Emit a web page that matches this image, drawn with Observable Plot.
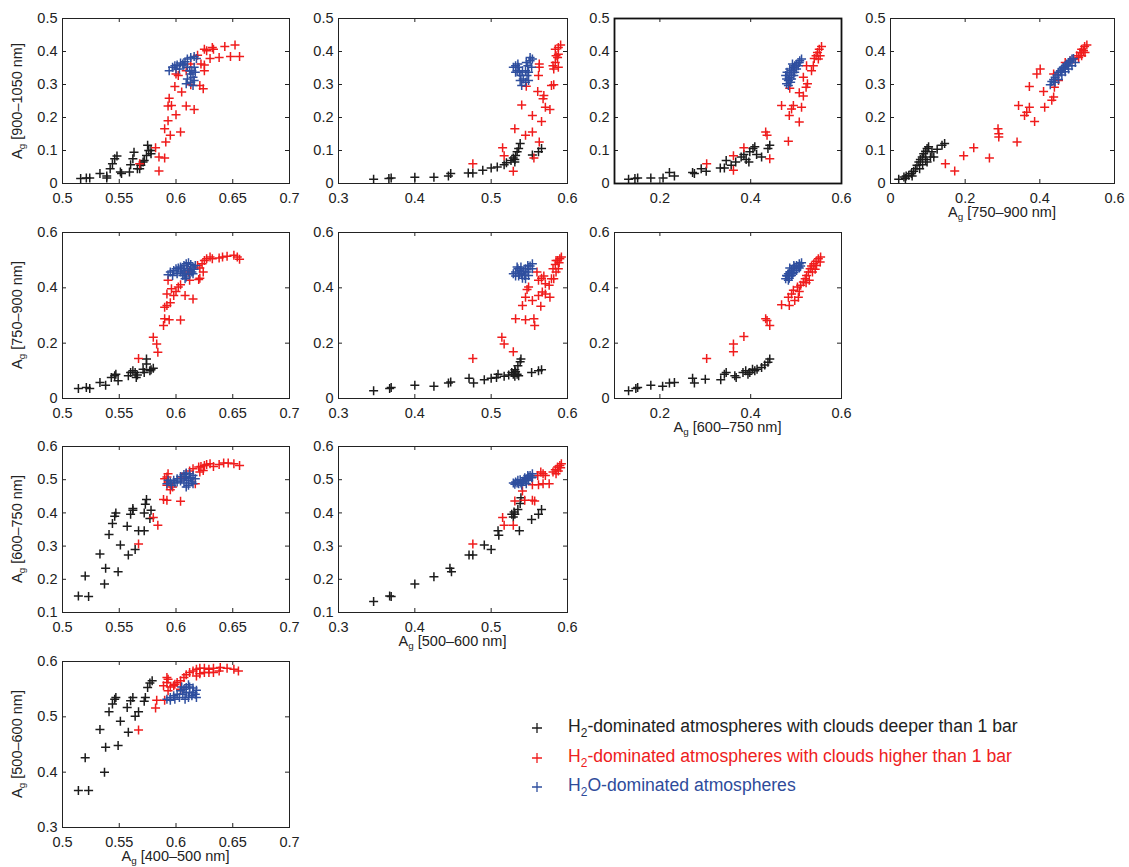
<!DOCTYPE html>
<html><head><meta charset="utf-8">
<script src="https://cdn.jsdelivr.net/npm/d3@7"></script>
<script src="https://cdn.jsdelivr.net/npm/@observablehq/plot@0.6"></script>
<style>
body{margin:0;background:#fff;}
#root{position:relative;width:1129px;height:867px;overflow:hidden;font-family:"Liberation Sans",Arial,Helvetica,sans-serif;color:#222;}
.panel{position:absolute;}
.panel svg{overflow:visible;}
.lab{position:absolute;font-size:14.5px;white-space:nowrap;color:#222;line-height:1;}
.lab sub,.leg sub{font-size:0.68em;vertical-align:-0.35em;line-height:0;}
.leg{position:absolute;font-size:17.6px;white-space:nowrap;line-height:1;}
.legmark{position:absolute;}
</style></head>
<body><div id="root"></div>
<script>
// ---- labels / axes ----
const bands = ["400–500 nm","500–600 nm","600–750 nm","750–900 nm","900–1050 nm"];
const bandDomain = [[0.5,0.7],[0.3,0.6],[0.1,0.6],[0,0.6],[0,0.5]];
const xTicks = [[0.5,0.55,0.6,0.65,0.7],[0.3,0.4,0.5,0.6],[0.2,0.4,0.6],[0,0.2,0.4,0.6]];
const yTicks = [null,[0.3,0.4,0.5,0.6],[0.1,0.2,0.3,0.4,0.5,0.6],[0,0.2,0.4,0.6],[0,0.1,0.2,0.3,0.4,0.5]];
const classNames = ["H<sub>2</sub>-dominated atmospheres with clouds deeper than 1 bar","H<sub>2</sub>-dominated atmospheres with clouds higher than 1 bar","H<sub>2</sub>O-dominated atmospheres"];
const classColors = ["#1c1c1c","#f01c1c","#2f4f9f"];
const legendColors = ["#222222","#ee2020","#2e4b9b"];

// ---- data: [x, y] pairs per panel (x band, y band) ----
// x = 400–500, y = 900–1050
const black15 = [[0.516,0.015],[0.521,0.017],[0.524,0.017],[0.533,0.03],[0.539,0.023],[0.539,0.017],[0.542,0.045],[0.544,0.06],[0.546,0.075],[0.548,0.083],[0.551,0.035],[0.552,0.03],[0.559,0.035],[0.560,0.057],[0.562,0.075],[0.563,0.095],[0.566,0.045],[0.568,0.045],[0.569,0.055],[0.571,0.065],[0.572,0.07],[0.574,0.085],[0.575,0.116],[0.576,0.10],[0.578,0.09],[0.578,0.10]];
const red15 = [[0.568,0.06],[0.582,0.108],[0.585,0.08],[0.585,0.038],[0.590,0.077],[0.591,0.126],[0.590,0.166],[0.593,0.19],[0.595,0.146],[0.593,0.235],[0.594,0.258],[0.596,0.236],[0.600,0.208],[0.604,0.156],[0.599,0.294],[0.605,0.277],[0.609,0.235],[0.616,0.224],[0.613,0.299],[0.621,0.297],[0.624,0.287],[0.600,0.332],[0.602,0.327],[0.609,0.342],[0.613,0.362],[0.619,0.389],[0.625,0.407],[0.627,0.402],[0.625,0.359],[0.625,0.342],[0.630,0.379],[0.632,0.412],[0.633,0.407],[0.638,0.382],[0.643,0.415],[0.652,0.42],[0.648,0.385],[0.656,0.385],[0.622,0.362]];
const blue15 = [[0.594,0.342],[0.597,0.352],[0.599,0.357],[0.601,0.359],[0.604,0.365],[0.606,0.362],[0.608,0.369],[0.610,0.377],[0.613,0.382],[0.616,0.385],[0.618,0.379],[0.610,0.352],[0.612,0.342],[0.613,0.332],[0.615,0.322],[0.610,0.317],[0.613,0.307],[0.616,0.312],[0.609,0.302],[0.614,0.342],[0.616,0.352],[0.607,0.359],[0.603,0.347],[0.600,0.347],[0.615,0.297],[0.617,0.337]];
// x = 500–600, y = 900–1050
const black25 = [[0.346,0.013],[0.366,0.015],[0.369,0.017],[0.40,0.019],[0.425,0.019],[0.444,0.023],[0.447,0.03],[0.470,0.032],[0.476,0.032],[0.489,0.04],[0.50,0.047],[0.508,0.05],[0.517,0.057],[0.520,0.063],[0.526,0.07],[0.529,0.077],[0.532,0.085],[0.534,0.096],[0.536,0.106],[0.538,0.121],[0.531,0.073],[0.531,0.065],[0.554,0.086],[0.562,0.096],[0.566,0.106]];
const red25 = [[0.476,0.06],[0.515,0.108],[0.517,0.084],[0.529,0.037],[0.531,0.166],[0.540,0.238],[0.545,0.146],[0.554,0.206],[0.554,0.156],[0.556,0.077],[0.563,0.126],[0.566,0.188],[0.561,0.279],[0.568,0.257],[0.569,0.267],[0.571,0.231],[0.577,0.224],[0.546,0.295],[0.562,0.327],[0.563,0.362],[0.563,0.352],[0.579,0.297],[0.582,0.299],[0.582,0.347],[0.584,0.367],[0.585,0.387],[0.588,0.392],[0.584,0.407],[0.588,0.412],[0.591,0.42],[0.588,0.352],[0.587,0.382],[0.581,0.357]];
const blue25 = [[0.529,0.352],[0.532,0.357],[0.535,0.362],[0.534,0.342],[0.537,0.337],[0.539,0.327],[0.542,0.317],[0.545,0.307],[0.540,0.297],[0.538,0.312],[0.547,0.327],[0.549,0.337],[0.548,0.357],[0.551,0.372],[0.551,0.382],[0.554,0.377],[0.545,0.342],[0.541,0.342],[0.536,0.352],[0.532,0.337],[0.549,0.312],[0.553,0.352],[0.546,0.367]];
// x = 600–750, y = 900–1050
const black35 = [[0.131,0.013],[0.145,0.015],[0.151,0.017],[0.180,0.017],[0.207,0.017],[0.221,0.033],[0.232,0.023],[0.272,0.033],[0.276,0.03],[0.291,0.045],[0.302,0.037],[0.333,0.047],[0.342,0.047],[0.346,0.07],[0.357,0.055],[0.367,0.065],[0.379,0.08],[0.385,0.088],[0.390,0.073],[0.396,0.065],[0.398,0.096],[0.405,0.106],[0.409,0.111],[0.413,0.088],[0.424,0.08],[0.438,0.106],[0.442,0.116]];
const red35 = [[0.303,0.06],[0.362,0.084],[0.362,0.04],[0.385,0.108],[0.433,0.156],[0.436,0.146],[0.442,0.075],[0.468,0.236],[0.485,0.206],[0.483,0.128],[0.486,0.289],[0.490,0.226],[0.494,0.236],[0.507,0.186],[0.512,0.231],[0.507,0.275],[0.516,0.265],[0.522,0.292],[0.525,0.302],[0.516,0.322],[0.523,0.357],[0.534,0.342],[0.538,0.357],[0.540,0.379],[0.544,0.387],[0.547,0.397],[0.551,0.407],[0.556,0.415],[0.549,0.377],[0.553,0.387]];
const blue35 = [[0.479,0.302],[0.483,0.312],[0.485,0.322],[0.486,0.332],[0.490,0.342],[0.494,0.352],[0.497,0.357],[0.501,0.362],[0.507,0.367],[0.512,0.377],[0.477,0.327],[0.480,0.337],[0.486,0.347],[0.492,0.362],[0.495,0.327],[0.490,0.317],[0.497,0.337],[0.501,0.347],[0.505,0.357],[0.483,0.297],[0.508,0.372],[0.479,0.317],[0.488,0.307]];
// x = 750–900, y = 900–1050
const black45 = [[0.022,0.013],[0.036,0.02],[0.042,0.023],[0.049,0.025],[0.056,0.03],[0.062,0.037],[0.067,0.045],[0.071,0.055],[0.076,0.065],[0.080,0.073],[0.085,0.08],[0.089,0.09],[0.094,0.098],[0.098,0.106],[0.102,0.111],[0.111,0.096],[0.116,0.08],[0.125,0.104],[0.138,0.116],[0.145,0.121],[0.078,0.045],[0.086,0.057],[0.098,0.065],[0.107,0.08],[0.040,0.015],[0.058,0.023],[0.094,0.073]];
const red45 = [[0.147,0.06],[0.172,0.038],[0.196,0.084],[0.223,0.108],[0.265,0.077],[0.288,0.166],[0.290,0.151],[0.290,0.141],[0.339,0.126],[0.343,0.236],[0.359,0.206],[0.365,0.216],[0.372,0.231],[0.372,0.294],[0.386,0.188],[0.392,0.332],[0.401,0.347],[0.410,0.279],[0.413,0.231],[0.432,0.252],[0.437,0.262],[0.439,0.292],[0.437,0.332],[0.450,0.312],[0.468,0.367],[0.481,0.372],[0.490,0.377],[0.499,0.387],[0.508,0.397],[0.512,0.407],[0.520,0.415],[0.526,0.42],[0.504,0.382],[0.521,0.397],[0.512,0.387],[0.517,0.402]];
const blue45 = [[0.428,0.299],[0.432,0.309],[0.437,0.315],[0.441,0.322],[0.446,0.329],[0.450,0.337],[0.455,0.342],[0.459,0.347],[0.463,0.352],[0.468,0.357],[0.472,0.362],[0.477,0.367],[0.481,0.372],[0.486,0.377],[0.490,0.379],[0.441,0.307],[0.450,0.315],[0.459,0.329],[0.468,0.339],[0.477,0.347],[0.486,0.357],[0.495,0.367],[0.457,0.337],[0.466,0.347],[0.475,0.357]];
// x = 400–500, y = 750–900
const black14 = [[0.514,0.036],[0.521,0.04],[0.524,0.036],[0.533,0.058],[0.538,0.048],[0.543,0.076],[0.546,0.082],[0.547,0.088],[0.549,0.064],[0.558,0.082],[0.560,0.094],[0.562,0.10],[0.564,0.094],[0.565,0.076],[0.571,0.106],[0.572,0.094],[0.574,0.143],[0.574,0.125],[0.577,0.10],[0.578,0.104],[0.580,0.109],[0.566,0.085]];
const red14 = [[0.567,0.145],[0.580,0.221],[0.583,0.197],[0.584,0.167],[0.589,0.264],[0.590,0.288],[0.594,0.285],[0.604,0.284],[0.590,0.33],[0.592,0.336],[0.595,0.346],[0.592,0.378],[0.593,0.427],[0.598,0.372],[0.600,0.387],[0.602,0.403],[0.604,0.411],[0.596,0.397],[0.608,0.372],[0.615,0.36],[0.612,0.427],[0.620,0.43],[0.621,0.435],[0.619,0.481],[0.621,0.472],[0.623,0.487],[0.625,0.499],[0.627,0.505],[0.630,0.511],[0.632,0.505],[0.624,0.457],[0.638,0.508],[0.641,0.511],[0.645,0.514],[0.651,0.518],[0.654,0.511],[0.656,0.503],[0.611,0.457]];
const blue14 = [[0.593,0.447],[0.595,0.457],[0.598,0.463],[0.600,0.469],[0.602,0.472],[0.604,0.475],[0.607,0.481],[0.609,0.487],[0.611,0.491],[0.613,0.484],[0.615,0.475],[0.616,0.467],[0.614,0.457],[0.612,0.447],[0.609,0.439],[0.608,0.433],[0.606,0.445],[0.604,0.457],[0.601,0.451],[0.597,0.445],[0.607,0.463],[0.610,0.469],[0.612,0.463],[0.615,0.451],[0.608,0.451],[0.605,0.469],[0.617,0.481]];
// x = 500–600, y = 750–900
const black24 = [[0.346,0.028],[0.367,0.036],[0.369,0.04],[0.40,0.048],[0.425,0.044],[0.444,0.056],[0.447,0.06],[0.471,0.073],[0.477,0.056],[0.491,0.068],[0.50,0.073],[0.507,0.076],[0.509,0.088],[0.517,0.08],[0.523,0.085],[0.527,0.094],[0.531,0.104],[0.532,0.097],[0.534,0.088],[0.536,0.082],[0.535,0.118],[0.538,0.133],[0.539,0.143],[0.531,0.08],[0.529,0.088],[0.553,0.094],[0.562,0.10],[0.566,0.104]];
const red24 = [[0.476,0.145],[0.514,0.221],[0.517,0.197],[0.529,0.169],[0.532,0.288],[0.545,0.285],[0.541,0.336],[0.545,0.366],[0.547,0.394],[0.549,0.403],[0.554,0.354],[0.556,0.288],[0.557,0.264],[0.565,0.333],[0.562,0.372],[0.567,0.385],[0.562,0.427],[0.566,0.435],[0.569,0.443],[0.560,0.457],[0.571,0.415],[0.576,0.409],[0.571,0.378],[0.577,0.366],[0.579,0.433],[0.582,0.433],[0.581,0.469],[0.584,0.484],[0.587,0.499],[0.590,0.505],[0.592,0.511],[0.588,0.469],[0.585,0.457],[0.589,0.491],[0.585,0.499]];
const blue24 = [[0.529,0.451],[0.532,0.457],[0.535,0.469],[0.538,0.463],[0.540,0.451],[0.544,0.445],[0.545,0.433],[0.541,0.435],[0.536,0.443],[0.547,0.457],[0.549,0.469],[0.551,0.479],[0.554,0.487],[0.548,0.481],[0.545,0.469],[0.539,0.475],[0.534,0.475],[0.542,0.459],[0.532,0.443],[0.554,0.469],[0.549,0.445],[0.537,0.451]];
// x = 600–750, y = 750–900
const black34 = [[0.131,0.028],[0.147,0.036],[0.151,0.04],[0.180,0.048],[0.206,0.044],[0.221,0.056],[0.232,0.058],[0.272,0.073],[0.276,0.056],[0.30,0.07],[0.334,0.068],[0.342,0.088],[0.346,0.094],[0.365,0.082],[0.368,0.076],[0.383,0.094],[0.389,0.1],[0.394,0.088],[0.398,0.094],[0.404,0.106],[0.409,0.1],[0.414,0.106],[0.424,0.112],[0.431,0.121],[0.438,0.131],[0.442,0.143]];
const red34 = [[0.303,0.145],[0.362,0.197],[0.362,0.169],[0.385,0.224],[0.433,0.288],[0.436,0.282],[0.442,0.264],[0.468,0.339],[0.485,0.336],[0.483,0.366],[0.490,0.378],[0.494,0.391],[0.503,0.403],[0.507,0.387],[0.510,0.409],[0.516,0.421],[0.520,0.433],[0.523,0.445],[0.527,0.457],[0.531,0.469],[0.534,0.479],[0.539,0.487],[0.544,0.496],[0.549,0.505],[0.554,0.511],[0.497,0.354],[0.505,0.366],[0.522,0.418],[0.529,0.427],[0.536,0.457],[0.542,0.467],[0.553,0.493],[0.545,0.481]];
const blue34 = [[0.477,0.433],[0.480,0.443],[0.483,0.451],[0.486,0.457],[0.490,0.463],[0.494,0.469],[0.497,0.475],[0.501,0.481],[0.507,0.487],[0.512,0.491],[0.479,0.445],[0.485,0.435],[0.490,0.445],[0.495,0.455],[0.501,0.463],[0.507,0.472],[0.510,0.479],[0.486,0.472],[0.495,0.481],[0.483,0.427],[0.505,0.475],[0.492,0.451]];
// x = 400–500, y = 600–750
const black13 = [[0.514,0.15],[0.523,0.148],[0.520,0.21],[0.533,0.276],[0.537,0.186],[0.538,0.233],[0.541,0.335],[0.544,0.368],[0.546,0.39],[0.547,0.40],[0.549,0.223],[0.551,0.303],[0.557,0.36],[0.558,0.273],[0.560,0.396],[0.562,0.413],[0.564,0.29],[0.567,0.346],[0.572,0.346],[0.572,0.40],[0.573,0.426],[0.574,0.44],[0.577,0.383],[0.578,0.408],[0.562,0.408]];
const red13 = [[0.567,0.306],[0.580,0.386],[0.584,0.363],[0.589,0.44],[0.592,0.438],[0.593,0.518],[0.592,0.508],[0.592,0.483],[0.595,0.47],[0.597,0.478],[0.604,0.435],[0.617,0.488],[0.612,0.526],[0.615,0.533],[0.620,0.538],[0.622,0.54],[0.625,0.543],[0.627,0.546],[0.630,0.548],[0.621,0.523],[0.624,0.528],[0.638,0.546],[0.642,0.55],[0.646,0.55],[0.651,0.548],[0.656,0.543],[0.590,0.503],[0.593,0.493],[0.605,0.508],[0.609,0.518],[0.633,0.54]];
const blue13 = [[0.592,0.488],[0.595,0.493],[0.598,0.498],[0.601,0.503],[0.604,0.51],[0.607,0.516],[0.609,0.52],[0.612,0.518],[0.615,0.513],[0.617,0.503],[0.614,0.493],[0.611,0.483],[0.609,0.478],[0.607,0.49],[0.604,0.496],[0.599,0.49],[0.596,0.483],[0.593,0.498],[0.609,0.503],[0.613,0.506],[0.605,0.503],[0.601,0.493],[0.611,0.498],[0.615,0.488],[0.608,0.51]];
// x = 500–600, y = 600–750
const black23 = [[0.346,0.133],[0.367,0.15],[0.369,0.148],[0.40,0.186],[0.425,0.208],[0.446,0.233],[0.448,0.223],[0.471,0.273],[0.476,0.273],[0.491,0.303],[0.50,0.29],[0.509,0.346],[0.510,0.333],[0.527,0.396],[0.529,0.388],[0.531,0.396],[0.535,0.41],[0.538,0.428],[0.539,0.446],[0.537,0.346],[0.553,0.38],[0.562,0.396],[0.566,0.41],[0.530,0.403]];
const red23 = [[0.476,0.306],[0.515,0.386],[0.517,0.363],[0.529,0.363],[0.531,0.436],[0.544,0.438],[0.554,0.438],[0.557,0.436],[0.541,0.466],[0.554,0.485],[0.562,0.485],[0.565,0.523],[0.568,0.518],[0.571,0.513],[0.576,0.488],[0.561,0.513],[0.581,0.523],[0.584,0.53],[0.587,0.538],[0.590,0.543],[0.592,0.548],[0.588,0.526],[0.585,0.518],[0.591,0.536],[0.568,0.488]];
const blue23 = [[0.529,0.49],[0.532,0.493],[0.536,0.488],[0.539,0.49],[0.542,0.496],[0.545,0.498],[0.547,0.503],[0.549,0.508],[0.551,0.513],[0.554,0.518],[0.554,0.508],[0.549,0.498],[0.546,0.488],[0.540,0.483],[0.535,0.498],[0.538,0.5],[0.544,0.506],[0.548,0.513],[0.531,0.486],[0.541,0.493],[0.553,0.506],[0.534,0.49]];
// x = 400–500, y = 500–600
const black12 = [[0.514,0.367],[0.523,0.367],[0.520,0.426],[0.533,0.477],[0.537,0.40],[0.538,0.445],[0.541,0.509],[0.544,0.523],[0.546,0.532],[0.547,0.535],[0.549,0.448],[0.551,0.492],[0.557,0.517],[0.558,0.472],[0.560,0.529],[0.562,0.535],[0.564,0.501],[0.567,0.509],[0.572,0.528],[0.573,0.535],[0.575,0.553],[0.577,0.561],[0.579,0.565]];
const red12 = [[0.567,0.476],[0.582,0.516],[0.583,0.53],[0.589,0.556],[0.592,0.571],[0.593,0.568],[0.592,0.562],[0.595,0.554],[0.598,0.556],[0.599,0.559],[0.601,0.562],[0.604,0.565],[0.607,0.571],[0.609,0.576],[0.612,0.58],[0.615,0.583],[0.618,0.586],[0.621,0.588],[0.625,0.588],[0.629,0.586],[0.633,0.588],[0.639,0.589],[0.645,0.588],[0.651,0.586],[0.655,0.583],[0.618,0.574],[0.621,0.578],[0.593,0.547],[0.604,0.55],[0.590,0.53],[0.629,0.58],[0.625,0.58],[0.633,0.58],[0.638,0.583]];
const blue12 = [[0.592,0.532],[0.595,0.535],[0.598,0.538],[0.601,0.541],[0.604,0.547],[0.607,0.55],[0.609,0.553],[0.612,0.554],[0.615,0.552],[0.618,0.548],[0.617,0.541],[0.614,0.538],[0.611,0.535],[0.608,0.532],[0.606,0.541],[0.603,0.535],[0.599,0.532],[0.595,0.53],[0.612,0.544],[0.609,0.544],[0.615,0.544],[0.618,0.535],[0.605,0.554],[0.611,0.558]];

// ---- layout of the panel grid (row 0 = top) ----
const colLeft = [62, 338, 614, 890];
const colWidth = [227, 229, 227, 224];
const rowTop = [18, 232, 446, 661];
const rowHeight = [165, 166, 166, 166];

const panels = [
  {row:0,col:0,xb:0,yb:4,sets:[black15,red15,blue15]},
  {row:0,col:1,xb:1,yb:4,sets:[black25,red25,blue25]},
  {row:0,col:2,xb:2,yb:4,sets:[black35,red35,blue35],bold:true},
  {row:0,col:3,xb:3,yb:4,sets:[black45,red45,blue45]},
  {row:1,col:0,xb:0,yb:3,sets:[black14,red14,blue14]},
  {row:1,col:1,xb:1,yb:3,sets:[black24,red24,blue24]},
  {row:1,col:2,xb:2,yb:3,sets:[black34,red34,blue34]},
  {row:2,col:0,xb:0,yb:2,sets:[black13,red13,blue13]},
  {row:2,col:1,xb:1,yb:2,sets:[black23,red23,blue23]},
  {row:3,col:0,xb:0,yb:1,sets:[black12,red12,blue12]}
];

const plusSymbol = {draw(ctx, size){ const r = Math.sqrt(size/Math.PI); ctx.moveTo(-r,0); ctx.lineTo(r,0); ctx.moveTo(0,-r); ctx.lineTo(0,r); }};
const fmt = d => String(d);
const root = document.getElementById("root");
const mL = 44, mR = 14, mT = 10, mB = 28;
const ink = "#222";

for (const p of panels) {
  const W = colWidth[p.col], H = rowHeight[p.row];
  const xt = xTicks[p.xb], yt = yTicks[p.yb];
  const marks = [
    Plot.tickX(xt, {x: d => d, insetTop: H - 4, stroke: ink}),
    Plot.tickX(xt, {x: d => d, insetBottom: H - 4, stroke: ink}),
    Plot.tickY(yt, {y: d => d, insetRight: W - 4, stroke: ink}),
    Plot.tickY(yt, {y: d => d, insetLeft: W - 4, stroke: ink}),
    Plot.axisX({ticks: xt, tickSize: 0, tickPadding: 9, tickFormat: fmt, label: null, fill: ink, fontSize: 14.5}),
    Plot.axisY({ticks: yt, tickSize: 0, tickPadding: 5, tickFormat: fmt, label: null, fill: ink, fontSize: 14.5})
  ];
  p.sets.forEach((set, i) => {
    marks.push(Plot.dot(set, {x: d => d[0], y: d => d[1], symbol: plusSymbol, r: 4.5, stroke: classColors[i], strokeWidth: 1.5, fill: "none"}));
  });
  marks.push(Plot.frame({stroke: p.bold ? "#111" : ink, strokeWidth: p.bold ? 1.8 : 1}));
  const chart = Plot.plot({
    width: W + mL + mR, height: H + mT + mB,
    marginLeft: mL, marginRight: mR, marginTop: mT, marginBottom: mB,
    x: {domain: bandDomain[p.xb]},
    y: {domain: bandDomain[p.yb]},
    style: {fontFamily: '"Liberation Sans", Arial, sans-serif', fontSize: "14.5px", color: ink, background: "transparent", overflow: "visible"},
    marks
  });
  const div = document.createElement("div");
  div.className = "panel";
  div.style.left = (colLeft[p.col] - mL) + "px";
  div.style.top = (rowTop[p.row] - mT) + "px";
  div.appendChild(chart);
  root.appendChild(div);
}

// y-axis labels (left column) and x-axis labels (bottom of each column)
for (let r = 0; r < 4; r++) {
  const d = document.createElement("div");
  d.className = "lab";
  d.innerHTML = "A<sub>g</sub> [" + bands[4 - r] + "]";
  d.style.left = "17px";
  d.style.top = (rowTop[r] + rowHeight[r] / 2) + "px";
  d.style.transform = "translate(-50%,-50%) rotate(-90deg)";
  root.appendChild(d);
}
for (let c = 0; c < 4; c++) {
  const r = 3 - c;
  const d = document.createElement("div");
  d.className = "lab";
  d.innerHTML = "A<sub>g</sub> [" + bands[c] + "]";
  d.style.left = (colLeft[c] + colWidth[c] / 2) + "px";
  d.style.top = (rowTop[r] + rowHeight[r] + 29) + "px";
  d.style.transform = "translate(-50%,-50%)";
  root.appendChild(d);
}

// legend
const legY = [728, 758, 787];
classNames.forEach((name, i) => {
  const m = document.createElementNS("http://www.w3.org/2000/svg", "svg");
  m.setAttribute("class", "legmark");
  m.setAttribute("width", 12); m.setAttribute("height", 12);
  m.style.left = "531px"; m.style.top = (legY[i] - 6) + "px";
  m.innerHTML = `<path d="M1,6H11M6,1V11" stroke="${classColors[i]}" stroke-width="1.3" fill="none"/>`;
  root.appendChild(m);
  const t = document.createElement("div");
  t.className = "leg";
  t.innerHTML = name;
  t.style.color = legendColors[i];
  t.style.left = "568px"; t.style.top = legY[i] + "px";
  t.style.transform = "translate(0,-55%)";
  root.appendChild(t);
});
</script>
</body></html>
